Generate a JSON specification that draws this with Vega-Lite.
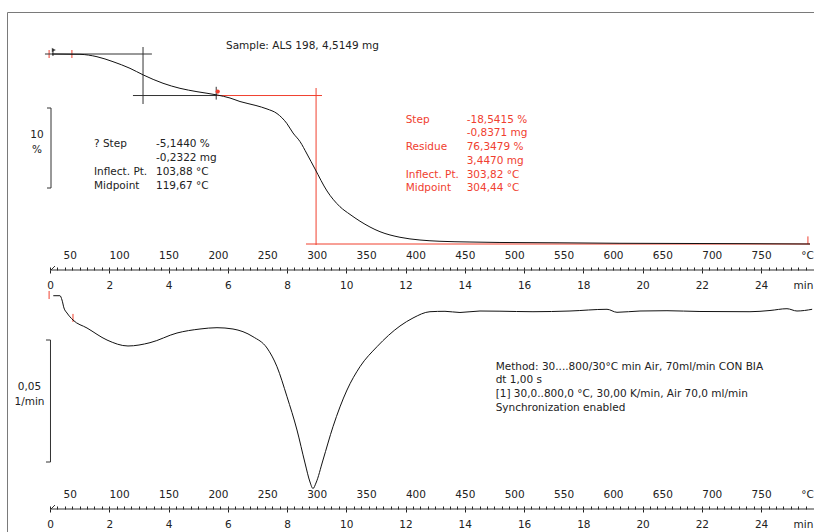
{
  "$schema": "https://vega.github.io/schema/vega-lite/v6.json",
  "width": 807,
  "height": 520,
  "autosize": {"type": "none"},
  "padding": {"left": 7, "top": 12, "right": 0, "bottom": 0},
  "background": "white",
  "config": {
    "view": {"stroke": "#7a7a7a", "strokeWidth": 1},
    "axis": {"grid": false, "domain": false, "labelFont": "DejaVu Sans", "labelFontSize": 10.5, "labelColor": "#222", "tickColor": "#222", "tickWidth": 1, "titleFont": "DejaVu Sans", "titleFontSize": 10.5, "titleFontWeight": "normal", "titleColor": "#222", "labelFlush": false, "labelOverlap": false},
    "text": {"font": "DejaVu Sans", "fontSize": 10.5}
  },
  "datasets": {
    "tga": [
      {"t": 0.068, "w": 100.0}, {"t": 1.012, "w": 99.96}, {"t": 1.586, "w": 99.66}, {"t": 2.126, "w": 99.04},
      {"t": 2.7, "w": 98.21}, {"t": 3.149, "w": 97.38}, {"t": 3.814, "w": 96.34}, {"t": 4.387, "w": 95.71},
      {"t": 4.961, "w": 95.29}, {"t": 5.636, "w": 94.88}, {"t": 6.075, "w": 94.5}, {"t": 6.412, "w": 94.06},
      {"t": 6.952, "w": 93.56}, {"t": 7.324, "w": 93.13}, {"t": 7.661, "w": 92.56}, {"t": 7.989, "w": 91.34},
      {"t": 8.201, "w": 90.13}, {"t": 8.437, "w": 89.06}, {"t": 8.674, "w": 87.5}, {"t": 8.944, "w": 85.63},
      {"t": 9.349, "w": 82.88}, {"t": 9.787, "w": 80.91}, {"t": 10.125, "w": 79.95}, {"t": 10.462, "w": 79.1},
      {"t": 11.137, "w": 77.79}, {"t": 11.812, "w": 77.09}, {"t": 12.487, "w": 76.75}, {"t": 13.162, "w": 76.59},
      {"t": 14.175, "w": 76.5}, {"t": 15.187, "w": 76.44}, {"t": 17.212, "w": 76.4}, {"t": 19.237, "w": 76.34},
      {"t": 21.937, "w": 76.31}, {"t": 23.524, "w": 76.29}, {"t": 25.65, "w": 76.25}
    ],
    "dtg": [
      {"t": 0.111, "v": 0.00586}, {"t": 0.337, "v": 0.00586}, {"t": 0.405, "v": 0.0041}, {"t": 0.472, "v": 0.00082},
      {"t": 0.574, "v": -0.00123}, {"t": 0.776, "v": -0.0041}, {"t": 1.249, "v": -0.00738}, {"t": 1.924, "v": -0.0123},
      {"t": 2.632, "v": -0.01475}, {"t": 3.375, "v": -0.0134}, {"t": 4.286, "v": -0.00943}, {"t": 5.063, "v": -0.00779},
      {"t": 5.636, "v": -0.00725}, {"t": 6.176, "v": -0.00779}, {"t": 6.851, "v": -0.01094}, {"t": 7.324, "v": -0.01557},
      {"t": 7.661, "v": -0.02324}, {"t": 7.999, "v": -0.03553}, {"t": 8.336, "v": -0.04918}, {"t": 8.606, "v": -0.0627},
      {"t": 8.775, "v": -0.07049}, {"t": 8.876, "v": -0.07316}, {"t": 8.977, "v": -0.0709}, {"t": 9.214, "v": -0.06148},
      {"t": 9.551, "v": -0.04783}, {"t": 10.024, "v": -0.03279}, {"t": 10.462, "v": -0.02324}, {"t": 11.036, "v": -0.01504},
      {"t": 11.812, "v": -0.00656}, {"t": 12.251, "v": -0.00328}, {"t": 12.825, "v": -0.0007}, {"t": 13.331, "v": -0.00053},
      {"t": 13.837, "v": -0.00102}, {"t": 14.512, "v": -0.00041}, {"t": 15.187, "v": -0.00049}, {"t": 16.301, "v": -0.0007},
      {"t": 17.55, "v": -0.00041}, {"t": 18.799, "v": 0.00029}, {"t": 19.136, "v": -0.00094}, {"t": 19.912, "v": -0.00041},
      {"t": 20.823, "v": -0.00029}, {"t": 21.937, "v": -0.00061}, {"t": 23.625, "v": -0.0007}, {"t": 24.3, "v": -0.0002},
      {"t": 24.873, "v": 0.00053}, {"t": 25.211, "v": -0.00041}, {"t": 25.723, "v": 0.00029}
    ],
    "tgaBlack": [
      {"t1": -0.17, "t2": 3.44, "w1": 100.0, "w2": 100.0},
      {"t1": 3.14, "t2": 3.14, "w1": 100.875, "w2": 93.75},
      {"t1": 2.8, "t2": 5.64, "w1": 94.81, "w2": 94.81},
      {"t1": 5.61, "t2": 5.61, "w1": 95.9, "w2": 94.3},
      {"t1": 0.034, "t2": 0.034, "w1": 93.25, "w2": 83.25},
      {"t1": -0.101, "t2": 0.034, "w1": 93.25, "w2": 93.25},
      {"t1": -0.101, "t2": 0.034, "w1": 83.25, "w2": 83.25},
      {"t1": 0.1, "t2": 0.1, "w1": 100.625, "w2": 99.75},
      {"t1": 0.0, "t2": 25.785, "w1": 73.0, "w2": 73.0},
      {"t1": 0.034, "t2": 0.169, "w1": 73.0, "w2": 73.5}
    ],
    "tgaRed": [
      {"t1": 5.64, "t2": 9.18, "w1": 94.81, "w2": 94.81},
      {"t1": 8.98, "t2": 8.98, "w1": 95.75, "w2": 76.125},
      {"t1": 8.64, "t2": 25.65, "w1": 76.25, "w2": 76.25},
      {"t1": -0.03, "t2": -0.03, "w1": 100.5, "w2": 99.5},
      {"t1": 0.74, "t2": 0.74, "w1": 100.5, "w2": 99.5},
      {"t1": 25.58, "t2": 25.58, "w1": 77.2, "w2": 76.25}
    ],
    "tgaMarks": [
      {"t": 0.13, "w": 100.5, "kind": "start"},
      {"t": 5.66, "w": 95.3, "kind": "step"}
    ],
    "dtgBlack": [
      {"t1": 0.017, "t2": 0.017, "v1": -0.012295, "v2": -0.062295},
      {"t1": -0.135, "t2": 0.017, "v1": -0.012295, "v2": -0.012295},
      {"t1": -0.135, "t2": 0.017, "v1": -0.062295, "v2": -0.062295},
      {"t1": 0.0, "t2": 25.785, "v1": -0.081559, "v2": -0.081559},
      {"t1": 0.034, "t2": 0.169, "v1": -0.081559, "v2": -0.079919}
    ],
    "dtgRed": [
      {"t1": -0.03, "t2": -0.03, "v1": 0.0078, "v2": 0.0045},
      {"t1": 0.776, "t2": 0.776, "v1": -0.0016, "v2": -0.0049}
    ]
  },
  "resolve": {"scale": {"y": "independent"}, "axis": {"x": "independent", "y": "independent"}},
  "layer": [
    {
      "data": {"name": "tgaRed"},
      "mark": {"type": "rule", "color": "#f0402f", "strokeWidth": 1},
      "encoding": {
        "x": {"field": "t1", "type": "quantitative", "scale": {"domain": [-1.451, 25.785], "nice": false, "zero": false},
          "axis": {"orient": "bottom", "offset": -262, "values": [0,0.25,0.5,0.75,1,1.25,1.5,1.75,2,2.25,2.5,2.75,3,3.25,3.5,3.75,4,4.25,4.5,4.75,5,5.25,5.5,5.75,6,6.25,6.5,6.75,7,7.25,7.5,7.75,8,8.25,8.5,8.75,9,9.25,9.5,9.75,10,10.25,10.5,10.75,11,11.25,11.5,11.75,12,12.25,12.5,12.75,13,13.25,13.5,13.75,14,14.25,14.5,14.75,15,15.25,15.5,15.75,16,16.25,16.5,16.75,17,17.25,17.5,17.75,18,18.25,18.5,18.75,19,19.25,19.5,19.75,20,20.25,20.5,20.75,21,21.25,21.5,21.75,22,22.25,22.5,22.75,23,23.25,23.5,23.75,24,24.25,24.5,24.75,25,25.25,25.5], "labels": false, "tickSize": -3, "title": null}},
        "x2": {"field": "t2"},
        "y": {"field": "w1", "type": "quantitative", "scale": {"domain": [40.25, 105.25], "nice": false, "zero": false}, "axis": null},
        "y2": {"field": "w2"}
      }
    },
    {
      "data": {"name": "tgaBlack"},
      "mark": {"type": "rule", "color": "#333", "strokeWidth": 1},
      "encoding": {
        "x": {"field": "t1", "type": "quantitative", "scale": {"domain": [-1.451, 25.785], "nice": false, "zero": false},
          "axis": {"orient": "bottom", "offset": -262, "values": [0.66667,2.33333,4,5.66667,7.33333,9,10.66667,12.33333,14,15.66667,17.33333,19,20.66667,22.33333,24], "labelExpr": "format(datum.value * 30 + 30, '.0f')", "ticks": false, "tickSize": 0, "labelBaseline": "middle", "labelPadding": -15, "title": "°C", "titleX": 800, "titleY": -15, "titleAngle": 0, "titleBaseline": "middle", "titleAlign": "center"}},
        "x2": {"field": "t2"},
        "y": {"field": "w1", "type": "quantitative", "scale": {"domain": [40.25, 105.25], "nice": false, "zero": false}, "axis": null},
        "y2": {"field": "w2"}
      }
    },
    {
      "data": {"name": "tga"},
      "mark": {"type": "line", "color": "#111", "strokeWidth": 1, "interpolate": "monotone"},
      "encoding": {
        "x": {"field": "t", "type": "quantitative", "scale": {"domain": [-1.451, 25.785], "nice": false, "zero": false},
          "axis": {"orient": "bottom", "offset": -262, "values": [0,2,4,6,8,10,12,14,16,18,20,22,24], "format": "d", "tickSize": 3, "labelBaseline": "middle", "labelPadding": 12, "title": "min", "titleX": 796, "titleY": 15, "titleAngle": 0, "titleBaseline": "middle", "titleAlign": "center"}},
        "y": {"field": "w", "type": "quantitative", "scale": {"domain": [40.25, 105.25], "nice": false, "zero": false}, "axis": null}
      }
    },
    {
      "data": {"name": "dtgRed"},
      "mark": {"type": "rule", "color": "#f0402f", "strokeWidth": 1},
      "encoding": {
        "x": {"field": "t1", "type": "quantitative", "scale": {"domain": [-1.451, 25.785], "nice": false, "zero": false},
          "axis": {"orient": "bottom", "offset": -23, "values": [0,0.25,0.5,0.75,1,1.25,1.5,1.75,2,2.25,2.5,2.75,3,3.25,3.5,3.75,4,4.25,4.5,4.75,5,5.25,5.5,5.75,6,6.25,6.5,6.75,7,7.25,7.5,7.75,8,8.25,8.5,8.75,9,9.25,9.5,9.75,10,10.25,10.5,10.75,11,11.25,11.5,11.75,12,12.25,12.5,12.75,13,13.25,13.5,13.75,14,14.25,14.5,14.75,15,15.25,15.5,15.75,16,16.25,16.5,16.75,17,17.25,17.5,17.75,18,18.25,18.5,18.75,19,19.25,19.5,19.75,20,20.25,20.5,20.75,21,21.25,21.5,21.75,22,22.25,22.5,22.75,23,23.25,23.5,23.75,24,24.25,24.5,24.75,25,25.25,25.5], "labels": false, "tickSize": -3, "title": null}},
        "x2": {"field": "t2"},
        "y": {"field": "v1", "type": "quantitative", "scale": {"domain": [-0.09098, 0.12213], "nice": false, "zero": false}, "axis": null},
        "y2": {"field": "v2"}
      }
    },
    {
      "data": {"name": "dtgBlack"},
      "mark": {"type": "rule", "color": "#333", "strokeWidth": 1},
      "encoding": {
        "x": {"field": "t1", "type": "quantitative", "scale": {"domain": [-1.451, 25.785], "nice": false, "zero": false},
          "axis": {"orient": "bottom", "offset": -23, "values": [0.66667,2.33333,4,5.66667,7.33333,9,10.66667,12.33333,14,15.66667,17.33333,19,20.66667,22.33333,24], "labelExpr": "format(datum.value * 30 + 30, '.0f')", "ticks": false, "tickSize": 0, "labelBaseline": "middle", "labelPadding": -15, "title": "°C", "titleX": 800, "titleY": -15, "titleAngle": 0, "titleBaseline": "middle", "titleAlign": "center"}},
        "x2": {"field": "t2"},
        "y": {"field": "v1", "type": "quantitative", "scale": {"domain": [-0.09098, 0.12213], "nice": false, "zero": false}, "axis": null},
        "y2": {"field": "v2"}
      }
    },
    {
      "data": {"name": "dtg"},
      "mark": {"type": "line", "color": "#111", "strokeWidth": 1, "interpolate": "monotone"},
      "encoding": {
        "x": {"field": "t", "type": "quantitative", "scale": {"domain": [-1.451, 25.785], "nice": false, "zero": false},
          "axis": {"orient": "bottom", "offset": -23, "values": [0,2,4,6,8,10,12,14,16,18,20,22,24], "format": "d", "tickSize": 3, "labelBaseline": "middle", "labelPadding": 12, "title": "min", "titleX": 796, "titleY": 15, "titleAngle": 0, "titleBaseline": "middle", "titleAlign": "center"}},
        "y": {"field": "v", "type": "quantitative", "scale": {"domain": [-0.09098, 0.12213], "nice": false, "zero": false}, "axis": null}
      }
    },
    {
      "data": {"name": "tgaMarks"},
      "transform": [{"filter": "datum.kind === 'start'"}],
      "mark": {"type": "point", "shape": "triangle-right", "filled": true, "color": "#111", "size": 22},
      "encoding": {
        "x": {"field": "t", "type": "quantitative", "scale": {"domain": [-1.451, 25.785], "nice": false, "zero": false}, "axis": null},
        "y": {"field": "w", "type": "quantitative", "scale": {"domain": [40.25, 105.25], "nice": false, "zero": false}, "axis": null}
      }
    },
    {
      "data": {"name": "tgaMarks"},
      "transform": [{"filter": "datum.kind === 'step'"}],
      "mark": {"type": "point", "shape": "circle", "filled": true, "color": "#f0402f", "size": 18, "opacity": 1},
      "encoding": {
        "x": {"field": "t", "type": "quantitative", "scale": {"domain": [-1.451, 25.785], "nice": false, "zero": false}, "axis": null},
        "y": {"field": "w", "type": "quantitative", "scale": {"domain": [40.25, 105.25], "nice": false, "zero": false}, "axis": null}
      }
    },
    {
      "data": {"values": [{}]},
      "mark": {"type": "text", "text": "Sample: ALS 198, 4,5149 mg", "align": "left", "baseline": "alphabetic", "color": "#222", "font": "DejaVu Sans", "fontSize": 10.5},
      "encoding": {
        "x": {"datum": 5.94, "type": "quantitative", "scale": {"domain": [-1.451, 25.785], "nice": false, "zero": false}, "axis": null},
        "y": {"datum": 100.6875, "type": "quantitative", "scale": {"domain": [40.25, 105.25], "nice": false, "zero": false}, "axis": null}
      }
    },
    {
      "data": {"values": [{}]},
      "mark": {"type": "text", "text": "? Step", "align": "left", "baseline": "alphabetic", "color": "#222", "font": "DejaVu Sans", "fontSize": 10.5},
      "encoding": {
        "x": {"datum": 1.485, "type": "quantitative", "scale": {"domain": [-1.451, 25.785], "nice": false, "zero": false}, "axis": null},
        "y": {"datum": 88.4375, "type": "quantitative", "scale": {"domain": [40.25, 105.25], "nice": false, "zero": false}, "axis": null}
      }
    },
    {
      "data": {"values": [{}]},
      "mark": {"type": "text", "text": ["Inflect. Pt.", "Midpoint"], "lineHeight": 14, "align": "left", "baseline": "alphabetic", "color": "#222", "font": "DejaVu Sans", "fontSize": 10.5},
      "encoding": {
        "x": {"datum": 1.485, "type": "quantitative", "scale": {"domain": [-1.451, 25.785], "nice": false, "zero": false}, "axis": null},
        "y": {"datum": 84.9375, "type": "quantitative", "scale": {"domain": [40.25, 105.25], "nice": false, "zero": false}, "axis": null}
      }
    },
    {
      "data": {"values": [{}]},
      "mark": {"type": "text", "text": ["-5,1440 %", "-0,2322 mg", "103,88 °C", "119,67 °C"], "lineHeight": 14, "align": "left", "baseline": "alphabetic", "color": "#222", "font": "DejaVu Sans", "fontSize": 10.5},
      "encoding": {
        "x": {"datum": 3.577, "type": "quantitative", "scale": {"domain": [-1.451, 25.785], "nice": false, "zero": false}, "axis": null},
        "y": {"datum": 88.4375, "type": "quantitative", "scale": {"domain": [40.25, 105.25], "nice": false, "zero": false}, "axis": null}
      }
    },
    {
      "data": {"values": [{}]},
      "mark": {"type": "text", "text": "Step", "align": "left", "baseline": "alphabetic", "color": "#f0402f", "font": "DejaVu Sans", "fontSize": 10.5},
      "encoding": {
        "x": {"datum": 12.005, "type": "quantitative", "scale": {"domain": [-1.451, 25.785], "nice": false, "zero": false}, "axis": null},
        "y": {"datum": 91.4375, "type": "quantitative", "scale": {"domain": [40.25, 105.25], "nice": false, "zero": false}, "axis": null}
      }
    },
    {
      "data": {"values": [{}]},
      "mark": {"type": "text", "text": "Residue", "align": "left", "baseline": "alphabetic", "color": "#f0402f", "font": "DejaVu Sans", "fontSize": 10.5},
      "encoding": {
        "x": {"datum": 12.005, "type": "quantitative", "scale": {"domain": [-1.451, 25.785], "nice": false, "zero": false}, "axis": null},
        "y": {"datum": 88.0, "type": "quantitative", "scale": {"domain": [40.25, 105.25], "nice": false, "zero": false}, "axis": null}
      }
    },
    {
      "data": {"values": [{}]},
      "mark": {"type": "text", "text": ["Inflect. Pt.", "Midpoint"], "lineHeight": 13.75, "align": "left", "baseline": "alphabetic", "color": "#f0402f", "font": "DejaVu Sans", "fontSize": 10.5},
      "encoding": {
        "x": {"datum": 12.005, "type": "quantitative", "scale": {"domain": [-1.451, 25.785], "nice": false, "zero": false}, "axis": null},
        "y": {"datum": 84.5625, "type": "quantitative", "scale": {"domain": [40.25, 105.25], "nice": false, "zero": false}, "axis": null}
      }
    },
    {
      "data": {"values": [{}]},
      "mark": {"type": "text", "text": ["-18,5415 %", "-0,8371 mg", "76,3479 %", "3,4470 mg", "303,82 °C", "304,44 °C"], "lineHeight": 13.75, "align": "left", "baseline": "alphabetic", "color": "#f0402f", "font": "DejaVu Sans", "fontSize": 10.5},
      "encoding": {
        "x": {"datum": 14.063, "type": "quantitative", "scale": {"domain": [-1.451, 25.785], "nice": false, "zero": false}, "axis": null},
        "y": {"datum": 91.4375, "type": "quantitative", "scale": {"domain": [40.25, 105.25], "nice": false, "zero": false}, "axis": null}
      }
    },
    {
      "data": {"values": [{}]},
      "mark": {"type": "text", "text": ["10", "%"], "lineHeight": 15, "align": "center", "baseline": "alphabetic", "color": "#222", "font": "DejaVu Sans", "fontSize": 10.5},
      "encoding": {
        "x": {"datum": -0.4387, "type": "quantitative", "scale": {"domain": [-1.451, 25.785], "nice": false, "zero": false}, "axis": null},
        "y": {"datum": 89.5625, "type": "quantitative", "scale": {"domain": [40.25, 105.25], "nice": false, "zero": false}, "axis": null}
      }
    },
    {
      "data": {"values": [{}]},
      "mark": {"type": "text", "text": ["0,05", "1/min"], "lineHeight": 15, "align": "center", "baseline": "alphabetic", "color": "#222", "font": "DejaVu Sans", "fontSize": 10.5},
      "encoding": {
        "x": {"datum": -0.6919, "type": "quantitative", "scale": {"domain": [-1.451, 25.785], "nice": false, "zero": false}, "axis": null},
        "y": {"datum": -0.032582, "type": "quantitative", "scale": {"domain": [-0.09098, 0.12213], "nice": false, "zero": false}, "axis": null}
      }
    },
    {
      "data": {"values": [{}]},
      "mark": {"type": "text", "text": ["Method: 30....800/30°C min Air, 70ml/min CON BIA", "dt 1,00 s", "[1] 30,0..800,0 °C, 30,00 K/min, Air 70,0 ml/min", "Synchronization enabled"], "lineHeight": 13.9, "align": "left", "baseline": "alphabetic", "color": "#222", "font": "DejaVu Sans", "fontSize": 10.5},
      "encoding": {
        "x": {"datum": 15.04, "type": "quantitative", "scale": {"domain": [-1.451, 25.785], "nice": false, "zero": false}, "axis": null},
        "y": {"datum": -0.024385, "type": "quantitative", "scale": {"domain": [-0.09098, 0.12213], "nice": false, "zero": false}, "axis": null}
      }
    }
  ]
}
